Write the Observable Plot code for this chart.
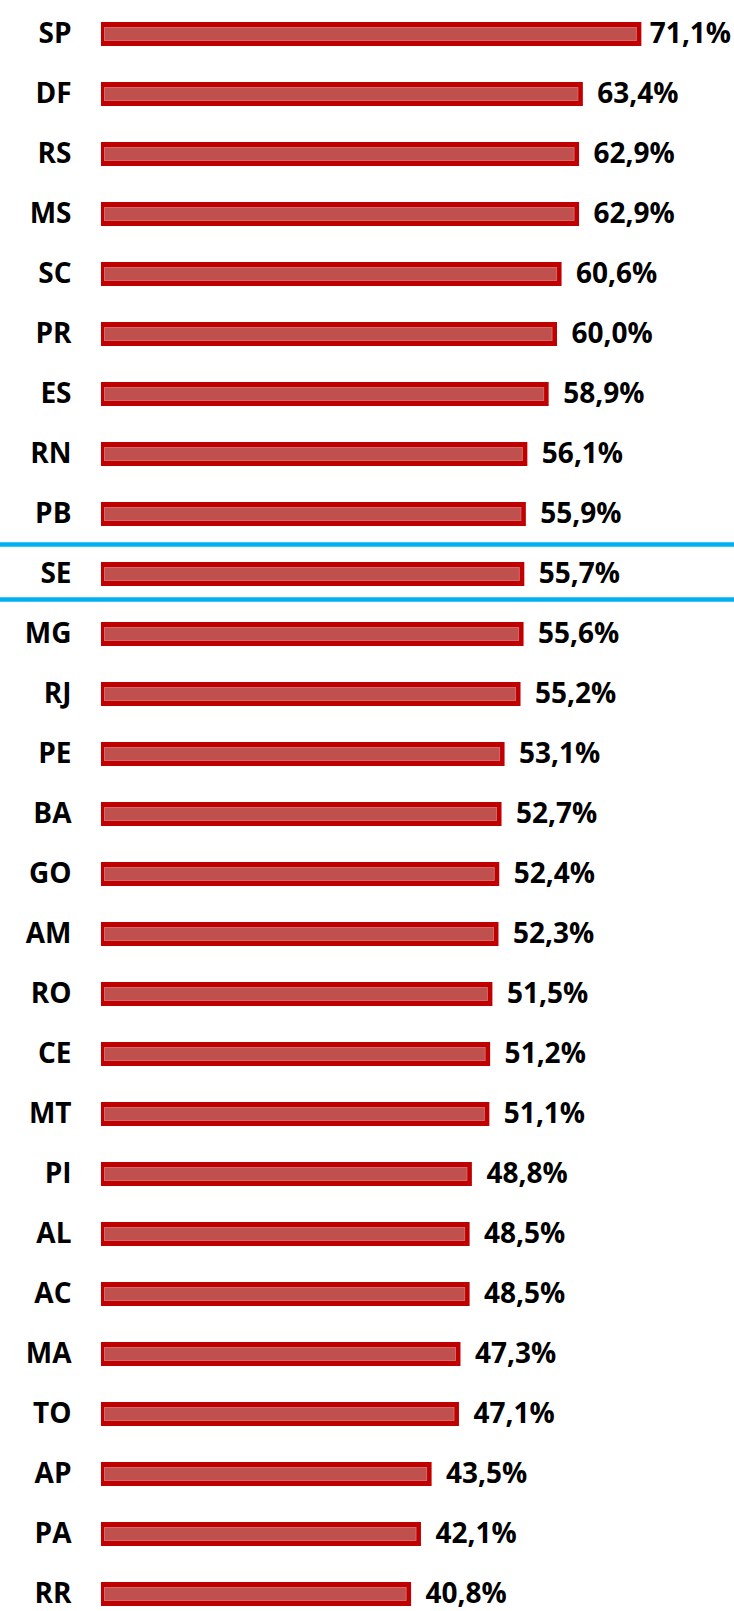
<!DOCTYPE html>
<html>
<head>
<meta charset="utf-8">
<script src="https://cdn.jsdelivr.net/npm/d3@7"></script>
<script src="https://cdn.jsdelivr.net/npm/@observablehq/plot@0.6"></script>
<style>
  html, body { margin: 0; padding: 0; background: #fff; width: 734px; height: 1611px; overflow: hidden; }
  #chart { width: 734px; height: 1611px; overflow: hidden; }
  #chart svg { display: block; }
</style>
</head>
<body>
<div id="chart"></div>
<script>
const states = ["SP","DF","RS","MS","SC","PR","ES","RN","PB","SE","MG","RJ","PE","BA","GO","AM","RO","CE","MT","PI","AL","AC","MA","TO","AP","PA","RR"];
const values = [71.1,63.4,62.9,62.9,60.6,60.0,58.9,56.1,55.9,55.7,55.6,55.2,53.1,52.7,52.4,52.3,51.5,51.2,51.1,48.8,48.5,48.5,47.3,47.1,43.5,42.1,40.8];
const highlighted = ["SE"];

const data = states.map((s, i) => ({state: s, value: values[i]}));
const maxValue = d3.max(values);
const fmt = v => v.toFixed(1).replace(".", ",") + "%";

const W = 734, H = 1611;
const font = "'Open Sans', 'Liberation Sans Narrow', sans-serif";

const chart = Plot.plot({
  width: W,
  height: H,
  marginLeft: 101,
  marginRight: 25,
  marginTop: 17,
  marginBottom: 0,
  style: {fontFamily: font, fontWeight: 700, background: "#fff", color: "#000"},
  x: {domain: [0, 80], axis: null},
  y: {domain: states, paddingInner: 0.6, paddingOuter: 0, label: null},
  marks: [
    Plot.ruleY(highlighted, {y: d => d, dy: -30, stroke: "#00B0F0", strokeWidth: 4.5}),
    Plot.ruleY(highlighted, {y: d => d, dy: 25, stroke: "#00B0F0", strokeWidth: 4.5}),
    Plot.barX(data, {y: "state", x: "value", fill: "#C00000"}),
    Plot.barX(data, {y: "state", x: "value", fill: "#C0504D", stroke: "#CF6B68", strokeWidth: 1,
      insetLeft: 3.5, insetRight: 5, insetTop: 5.5, insetBottom: 5.5}),
    Plot.axisY({tickSize: 0, tickPadding: 30, fontSize: 28, fontWeight: 700, fill: "#000", label: null}),
    Plot.text(data.filter(d => d.value !== maxValue), {y: "state", x: "value", text: d => fmt(d.value),
      textAnchor: "start", dx: 14, fontSize: 28, fontWeight: 700, fill: "#000"}),
    Plot.text(data.filter(d => d.value === maxValue), {y: "state", x: "value", text: d => fmt(d.value),
      textAnchor: "start", dx: 8, fontSize: 28, fontWeight: 700, fill: "#000"})
  ]
});

// extend the highlight rules across the full page width
d3.select(chart).selectAll('g[aria-label="rule"] line').attr("x1", 0).attr("x2", W);

document.getElementById("chart").appendChild(chart);
</script>
</body>
</html>
